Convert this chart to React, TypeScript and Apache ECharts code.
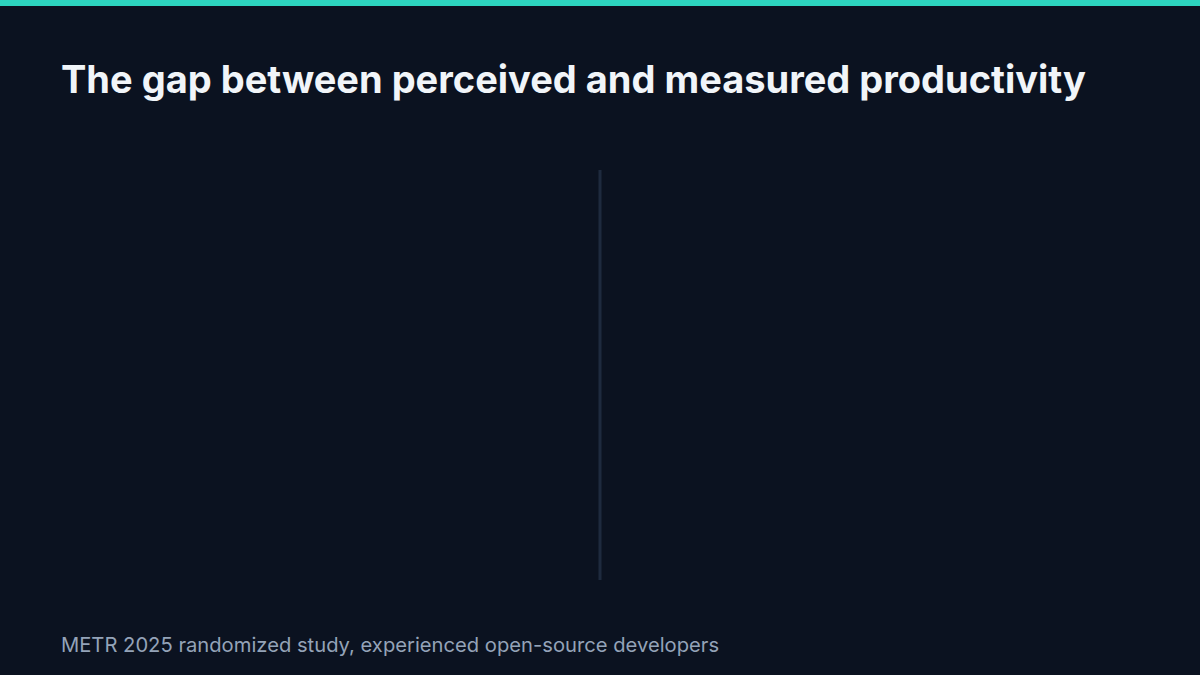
import React, { useRef, useEffect } from "react";
import * as echarts from "echarts";

// The reference shows two empty panels split by a divider: no marks are drawn.
const titleText = "The gap between perceived and measured productivity";
const sourceText = "METR 2025 randomized study, experienced open-source developers";
const perceivedValues: number[] = [];
const measuredValues: number[] = [];

const BG = "#0b1220";
const ACCENT = "#2dd4bf";

export default function App() {
  const chartRef = useRef<HTMLDivElement>(null);

  useEffect(() => {
    document.body.style.margin = "0";
    if (!chartRef.current) return;
    const chart = echarts.init(chartRef.current, undefined, { renderer: "svg" });

    const option: echarts.EChartsOption = {
      animation: false,
      backgroundColor: BG,
      textStyle: { fontFamily: "Inter" },
      title: [
        {
          text: titleText,
          left: 61,
          top: 60,
          padding: 0,
          textStyle: { color: "#f1f5f9", fontSize: 38, fontWeight: 700, fontFamily: "Inter" },
        },
        {
          text: sourceText,
          left: 61,
          top: 634,
          padding: 0,
          textStyle: { color: "#94a3b8", fontSize: 20.2, fontWeight: 400, fontFamily: "Inter" },
        },
      ],
      // two side-by-side panels, left and right of the divider
      grid: [
        { left: 60, width: 500, top: 170, height: 410, show: false },
        { left: 640, width: 500, top: 170, height: 410, show: false },
      ],
      xAxis: [
        { type: "category", gridIndex: 0, data: [], show: false },
        { type: "category", gridIndex: 1, data: [], show: false },
      ],
      yAxis: [
        { type: "value", gridIndex: 0, show: false },
        { type: "value", gridIndex: 1, show: false },
      ],
      graphic: [
        {
          type: "rect",
          left: 0,
          top: 0,
          shape: { width: 1200, height: 6 },
          style: { fill: ACCENT },
          silent: true,
        },
        {
          type: "line",
          shape: { x1: 600, y1: 170, x2: 600, y2: 580 },
          style: { stroke: "#1e2a3e", lineWidth: 3 },
          silent: true,
        },
      ],
      series: [
        { type: "bar", name: "Perceived", xAxisIndex: 0, yAxisIndex: 0, data: perceivedValues },
        { type: "bar", name: "Measured", xAxisIndex: 1, yAxisIndex: 1, data: measuredValues },
      ],
    };

    chart.setOption(option);
    return () => chart.dispose();
  }, []);

  return <div ref={chartRef} style={{ width: 1200, height: 675 }} />;
}
